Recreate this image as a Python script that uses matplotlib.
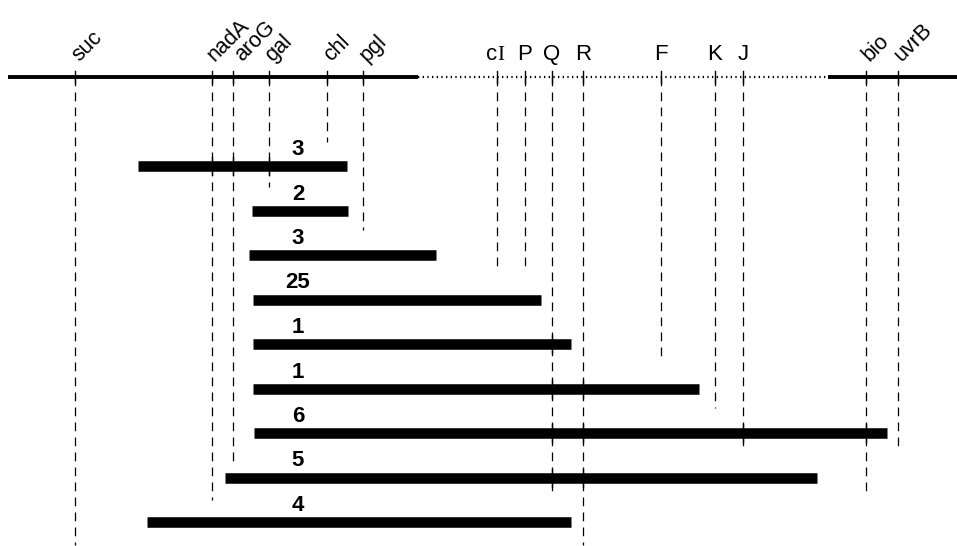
import numpy as np
import matplotlib.pyplot as plt

plt.rcParams['font.family'] = ['Liberation Sans', 'DejaVu Sans']

# gene markers on the map (map units ~ pixel columns)
genes = ['suc', 'nadA', 'aroG', 'gal', 'chl', 'pgl', 'cI', 'P', 'Q', 'R',
         'F', 'K', 'J', 'bio', 'uvrB']
gene_pos = [75, 212, 233, 269, 327, 363, 497, 525, 552, 583,
            661, 715, 743, 866, 898]
gene_drop = [545, 500, 463, 187, 142, 230, 272, 272, 497, 545,
             362, 408, 452, 495, 452]
gene_slanted = [True, True, True, True, True, True, False, False, False, False,
                False, False, False, True, True]

# deletion segments: left end, right end, count
seg_left = [138, 252, 249, 253, 253, 253, 254, 225, 147]
seg_right = [347, 348, 436, 541, 571, 699, 887, 817, 571]
seg_count = ['3', '2', '3', '25', '1', '1', '6', '5', '4']

# map line: solid / dotted (phage) / solid
map_solid1 = (8, 418)
map_dotted = (418, 828)
map_solid2 = (828, 957)

fig = plt.figure(figsize=(9.57, 5.46), dpi=100)
ax = fig.add_axes([0, 0, 1, 1])
ax.set_xlim(0, 957)
ax.set_ylim(546, 0)
ax.axis('off')

map_y = 77
ax.plot(map_solid1, [map_y, map_y], color='black', lw=2.8, solid_capstyle='butt')
ax.plot(map_dotted, [map_y, map_y], color='black', lw=1.6, linestyle=(0, (0.6, 1.5)))
ax.plot(map_solid2, [map_y, map_y], color='black', lw=2.8, solid_capstyle='butt')

row_y = np.linspace(166, 522, len(seg_left))

# small nudges so crowded slanted names don't collide
nudge = {'nadA': -1, 'aroG': 5}

for g, x, drop, slant in zip(genes, gene_pos, gene_drop, gene_slanted):
    ax.plot([x, x], [map_y, drop], color='black', lw=0.9, linestyle=(0, (7, 5)))
    ax.plot([x, x], [map_y - 6, map_y + 6], color='black', lw=1.0)
    if slant:
        ax.text(x + 4 + nudge.get(g, 0), map_y - 15, g, rotation=45,
                rotation_mode='anchor', ha='left', va='baseline', fontsize=15.5)
    elif g == 'cI':
        ax.text(x, map_y - 17, 'c', ha='right', va='baseline', fontsize=16)
        ax.text(x, map_y - 17, 'I', ha='left', va='baseline', fontsize=15,
                family='Liberation Serif')
    else:
        ax.text(x, map_y - 17, g, ha='center', va='baseline', fontsize=16)

for left, right, cnt, y in zip(seg_left, seg_right, seg_count, row_y):
    ax.plot([left, right], [y, y], color='black', lw=7.6, solid_capstyle='butt',
            zorder=3)
    ax.text(298, y - 11, cnt, ha='center', va='baseline', fontsize=16,
            fontweight='bold')
    for x, drop in zip(gene_pos, gene_drop):
        if left < x < right and drop > y:
            ax.plot([x, x], [y - 9, y + 9], color='black', lw=1.0, zorder=4)

fig.savefig('out.png', dpi=100)
